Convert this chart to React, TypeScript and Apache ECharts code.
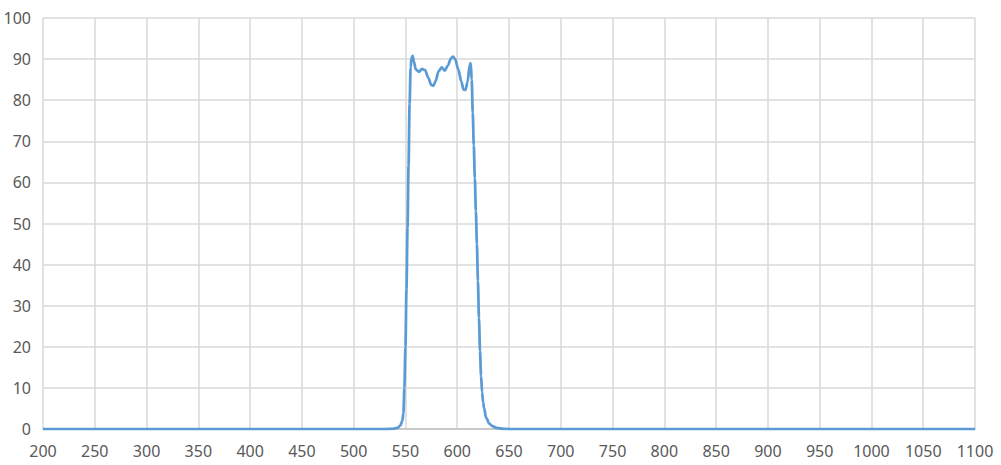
import React, { useEffect, useRef } from "react";
import * as echarts from "echarts";

const wavelengths = [
  200, 530, 538, 542, 545, 547, 548, 549, 550, 551, 552, 553, 554, 555, 556, 557, 558, 560,
  563, 566, 569, 572, 575, 577, 579, 582, 585, 588, 591, 594, 596, 598, 601, 604, 606,
  608, 610, 612, 613, 614, 615, 616, 617, 618, 619, 620, 621, 622, 623, 624, 625, 626,
  628, 631, 634, 638, 645, 650, 1100,
];
const transmittance = [
  0, 0, 0.05, 0.25, 0.8, 2, 3.8, 10, 20, 34, 49, 64, 79, 88, 90.4, 90.8, 89.5, 87.5,
  86.9, 87.6, 87.3, 85.5, 83.7, 83.5, 84.6, 87, 88, 87.2, 88.5, 90.2, 90.6, 90, 87.5, 84.5, 82.6,
  82.5, 84.5, 88.5, 89, 85, 77, 69, 61, 53, 45, 36, 27, 19, 13, 9, 6.5, 5,
  2.7, 1.3, 0.7, 0.3, 0.05, 0, 0,
];
const xTicks = { min: 200, max: 1100, interval: 50 };
const yTicks = { min: 0, max: 100, interval: 10 };

export default function App() {
  const ref = useRef<HTMLDivElement>(null);
  useEffect(() => {
    if (!ref.current) return;
    const chart = echarts.init(ref.current, null, { renderer: "svg" });
    const data = wavelengths.map((w, i) => [w, transmittance[i]]);
    const labelStyle = {
      color: "#595959",
      fontSize: 16,
      fontFamily: "Noto Sans, sans-serif",
    };
    chart.setOption({
      animation: false,
      backgroundColor: "#ffffff",
      grid: { left: 43, right: 26, top: 18, bottom: 36, containLabel: false },
      xAxis: {
        type: "value",
        min: xTicks.min,
        max: xTicks.max,
        interval: xTicks.interval,
        axisLine: { show: true, lineStyle: { color: "#bfbfbf", width: 1.5 } },
        axisTick: { show: false },
        axisLabel: { ...labelStyle, margin: 14, formatter: (v: number) => String(v) },
        splitLine: { show: true, lineStyle: { color: "#d9d9d9", width: 1.5 } },
      },
      yAxis: {
        type: "value",
        min: yTicks.min,
        max: yTicks.max,
        interval: yTicks.interval,
        axisLine: { show: false },
        axisTick: { show: false },
        axisLabel: { ...labelStyle, margin: 12, formatter: (v: number) => String(v) },
        splitLine: { show: true, lineStyle: { color: "#d9d9d9", width: 1.5 } },
      },
      series: [
        {
          type: "line",
          data,
          showSymbol: false,
          smooth: 0.3,
          smoothMonotone: "x",
          lineStyle: { color: "#5b9bd5", width: 2.75 },
          itemStyle: { color: "#5b9bd5" },
        },
      ],
    });
    return () => chart.dispose();
  }, []);
  return (
    <div
      ref={ref}
      style={{ position: "fixed", left: 0, top: 0, width: 1001, height: 465, background: "#fff" }}
    />
  );
}
